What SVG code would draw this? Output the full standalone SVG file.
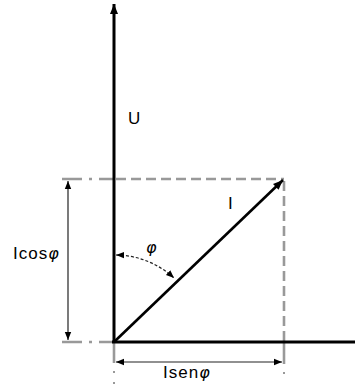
<svg xmlns="http://www.w3.org/2000/svg" width="355" height="385" viewBox="0 0 355 385">
<defs>
<style>
.axis{stroke:#000;stroke-width:3;fill:none}
.vec{stroke:#000;stroke-width:2.6;fill:none}
.guide{stroke:#999;stroke-width:2.6;fill:none}
.dash{stroke-dasharray:10 5}
.dashdot{stroke-dasharray:20 7 3 7}
.dim{stroke:#222;stroke-width:1.2;fill:none}
.arc{stroke:#222;stroke-width:1.2;fill:none;stroke-dasharray:3 2}
text{font-family:"Liberation Sans",Arial,sans-serif;font-size:17px;fill:#000;letter-spacing:1px}
.phi{font-style:italic;font-family:"DejaVu Sans","Liberation Sans",sans-serif;font-size:16px;letter-spacing:0}
</style>
<marker id="big" viewBox="0 0 10 10" refX="10" refY="5" markerWidth="10" markerHeight="10" markerUnits="userSpaceOnUse" orient="auto">
<path d="M0,1 L10,5 L0,9 Z" fill="#000"/>
</marker>
<marker id="small" viewBox="0 0 10 10" refX="10" refY="5" markerWidth="8" markerHeight="8" markerUnits="userSpaceOnUse" orient="auto-start-reverse">
<path d="M0,1 L10,5 L0,9 Z" fill="#000"/>
</marker>
</defs>
<g id="guides">
<path class="guide dashdot" d="M62,179 H114"/>
<path class="guide dash" d="M116,179 H284"/>
<path class="guide dash" d="M284,181 V342"/>
<path class="guide dashdot" d="M62,342 H114"/>
<path class="guide" d="M114,342 V363"/>
<path class="guide" d="M284,342 V364"/>
<rect x="113" y="371" width="2" height="2" fill="#999"/>
<rect x="113" y="382" width="2" height="2" fill="#999"/>
<rect x="283" y="372" width="2" height="2" fill="#999"/>
</g>
<g id="connectors">
<path class="axis" d="M114,343 V4" marker-end="url(#big)"/>
<path class="axis" d="M112,342 H355"/>
<path class="vec" d="M114,342 L283,180" marker-end="url(#big)"/>
<path class="dim" d="M68,181 V340" marker-start="url(#small)" marker-end="url(#small)"/>
<path class="dim" d="M116,362 H282" marker-start="url(#small)" marker-end="url(#small)"/>
<path class="arc" d="M116,255 A87,87 0 0 1 174,278" marker-start="url(#small)" marker-end="url(#small)"/>
</g>
<g id="U"><text x="128" y="124">U</text></g>
<g id="I"><text x="228" y="209">I</text></g>
<g id="Icos"><text x="13" y="259">Icos<tspan class="phi">φ</tspan></text></g>
<g id="Isen"><text x="163" y="378">Isen<tspan class="phi">φ</tspan></text></g>
<g id="phi"><text class="phi" x="146" y="253">φ</text></g>
</svg>
